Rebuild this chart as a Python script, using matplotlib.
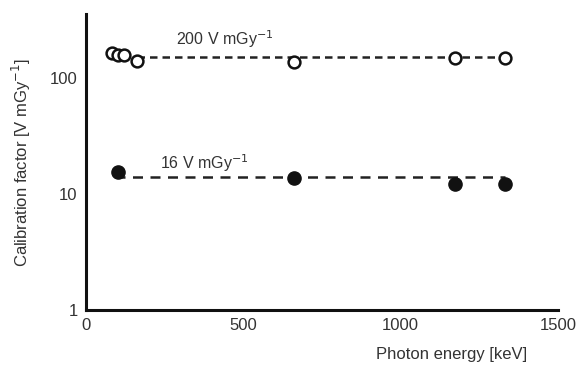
import numpy as np
import matplotlib
matplotlib.use('Agg')
import matplotlib.pyplot as plt

plt.rcParams['font.family'] = ['Liberation Sans', 'DejaVu Sans']

# open circles: 200 V/mGy detector
energy_200 = [83, 102, 121, 162, 661, 1173, 1332]
factor_200 = [164, 158, 158, 141, 138, 148, 148]
fit_200 = 152

# filled circles: 16 V/mGy detector
energy_16 = [102, 661, 1173, 1332]
factor_16 = [15.5, 13.7, 12.3, 12.3]
fit_16 = 14.0

x_ticks = [0, 500, 1000, 1500]
y_ticks = [1, 10, 100]

fig = plt.figure(figsize=(5.8, 3.7), dpi=100)
ax = fig.add_axes([0.148, 0.162, 0.814, 0.800])

ax.plot([energy_200[3], energy_200[-1]], [fit_200, fit_200], '--', color='#222222',
        lw=1.8, dashes=(3, 2), zorder=1)
ax.plot([energy_16[0] - 10, energy_16[-1]], [fit_16, fit_16], '--', color='#222222',
        lw=1.8, dashes=(4, 3), zorder=1)

ax.plot(energy_200, factor_200, 'o', mfc='white', mec='#111111', mew=1.8, ms=8.5,
        ls='none', zorder=2)
ax.plot(energy_16, factor_16, 'o', mfc='#111111', mec='#111111', ms=9.5,
        ls='none', zorder=2)

ax.text(440, 215, '200 V mGy$^{-1}$', fontsize=11.5, color='#333333', ha='center', va='center')
ax.text(378, 18.5, '16 V mGy$^{-1}$', fontsize=11.5, color='#333333', ha='center', va='center')

ax.set_yscale('log')
ax.set_xlim(0, 1500)
ax.set_ylim(1, 355)
ax.set_xticks(x_ticks)
ax.set_xticklabels([str(v) for v in x_ticks])
ax.set_yticks(y_ticks)
ax.set_yticklabels([str(v) for v in y_ticks])
ax.yaxis.set_minor_locator(matplotlib.ticker.NullLocator())
ax.tick_params(length=0, labelsize=12, labelcolor='#333333', pad=6)

for s in ['top', 'right']:
    ax.spines[s].set_visible(False)
for s in ['left', 'bottom']:
    ax.spines[s].set_linewidth(2.2)
    ax.spines[s].set_color('#111111')

ax.set_ylabel('Calibration factor [V mGy$^{-1}$]', fontsize=12, color='#333333', labelpad=12)
ax.set_xlabel('Photon energy [keV]', fontsize=12, color='#333333')
ax.xaxis.set_label_coords(0.775, -0.125)

fig.savefig('out.png', dpi=100)
